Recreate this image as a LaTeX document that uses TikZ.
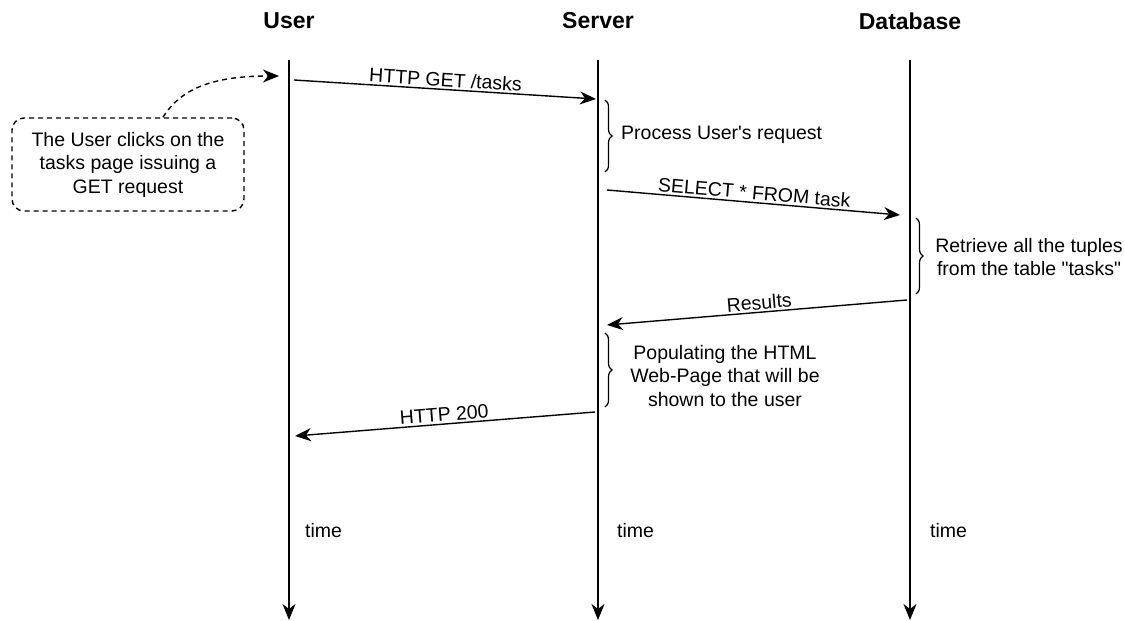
\documentclass[tikz,border=0pt]{standalone}
\usepackage{fontspec}
\newfontfamily\labelfont{Liberation Sans}
\usetikzlibrary{arrows.meta,decorations.pathreplacing}

\tikzset{
  lbl/.style={font=\labelfont\fontsize{19.5}{23.5}\selectfont, inner sep=2pt},
  head/.style={font=\labelfont\bfseries\fontsize{23}{26}\selectfont},
  lifeline/.style={line width=1.6pt, -{Stealth[length=16pt,width=13pt,inset=5pt]}},
  msg/.style={line width=1.4pt, -{Stealth[length=16pt,width=13pt,inset=5pt]}},
  bracer/.style={decorate, decoration={brace, amplitude=7pt}, line width=1.2pt},
  note/.style={lbl, draw, dashed, dash pattern=on 5pt off 4pt, line width=1.4pt,
    rounded corners=12pt, align=center, minimum width=232pt, minimum height=93pt},
}

\begin{document}
\begin{tikzpicture}[x=1pt, y=-1pt]
\useasboundingbox (0,0) rectangle (1125,621);

% column headings
\node[head] (hu) at (289,21) {User};
\node[head] (hs) at (598,21) {Server};
\node[head] (hd) at (910,21) {Database};

% lifelines
\coordinate (ut) at (289,60);  \coordinate (ub) at (289,620);
\coordinate (st) at (598,60);  \coordinate (sb) at (598,620);
\coordinate (dt) at (910,60);  \coordinate (db) at (910,620);
\draw[lifeline] (ut) -- (ub);
\draw[lifeline] (st) -- (sb);
\draw[lifeline] (dt) -- (db);

% message end points
\coordinate (m1a) at (294,80);  \coordinate (m1b) at (596,99);
\coordinate (m2a) at (607,190); \coordinate (m2b) at (900,215);
\coordinate (m3a) at (907,300); \coordinate (m3b) at (607,325);
\coordinate (m4a) at (595,412); \coordinate (m4b) at (295,436);

\draw[msg] (m1a) -- node[lbl, above, sloped] {HTTP GET /tasks} (m1b);
\draw[msg] (m2a) -- node[lbl, above, sloped] {SELECT * FROM task} (m2b);
\draw[msg] (m3a) -- node[lbl, above, sloped, xshift=3pt] {Results} (m3b);
\draw[msg] (m4a) -- node[lbl, above, sloped] {HTTP 200} (m4b);

% processing braces
\coordinate (b1a) at (605,100); \coordinate (b1b) at (605,172);
\coordinate (b2a) at (916,218); \coordinate (b2b) at (916,294);
\coordinate (b3a) at (605,333); \coordinate (b3b) at (605,407);
\draw[bracer] (b1a) -- (b1b);
\draw[bracer] (b2a) -- (b2b);
\draw[bracer] (b3a) -- (b3b);
\node[lbl, anchor=west] (p1) at (619,135) {Process User's request};
\node[lbl, align=center] (p2) at (1029,257) {Retrieve all the tuples\\from the table "tasks"};
\node[lbl, align=center] (p3) at (725,376) {Populating the HTML\\Web-Page that will be\\shown to the user};

% time labels
\node[lbl, anchor=west] (tu) at (303,531) {time};
\node[lbl, anchor=west] (ts) at (615,531) {time};
\node[lbl, anchor=west] (td) at (928,531) {time};

% annotation
\node[note] (nt) at (128,164.5) {The User clicks on the\\tasks page issuing a\\GET request};
\coordinate (nend) at (279,76);
\draw[line width=1.4pt, dashed, dash pattern=on 5pt off 4pt, -{Stealth[length=16pt,width=13pt,inset=5pt]}]
  ([xshift=35pt]nt.north) .. controls (180,90) and (210,76) .. (nend);
\end{tikzpicture}
\end{document}
